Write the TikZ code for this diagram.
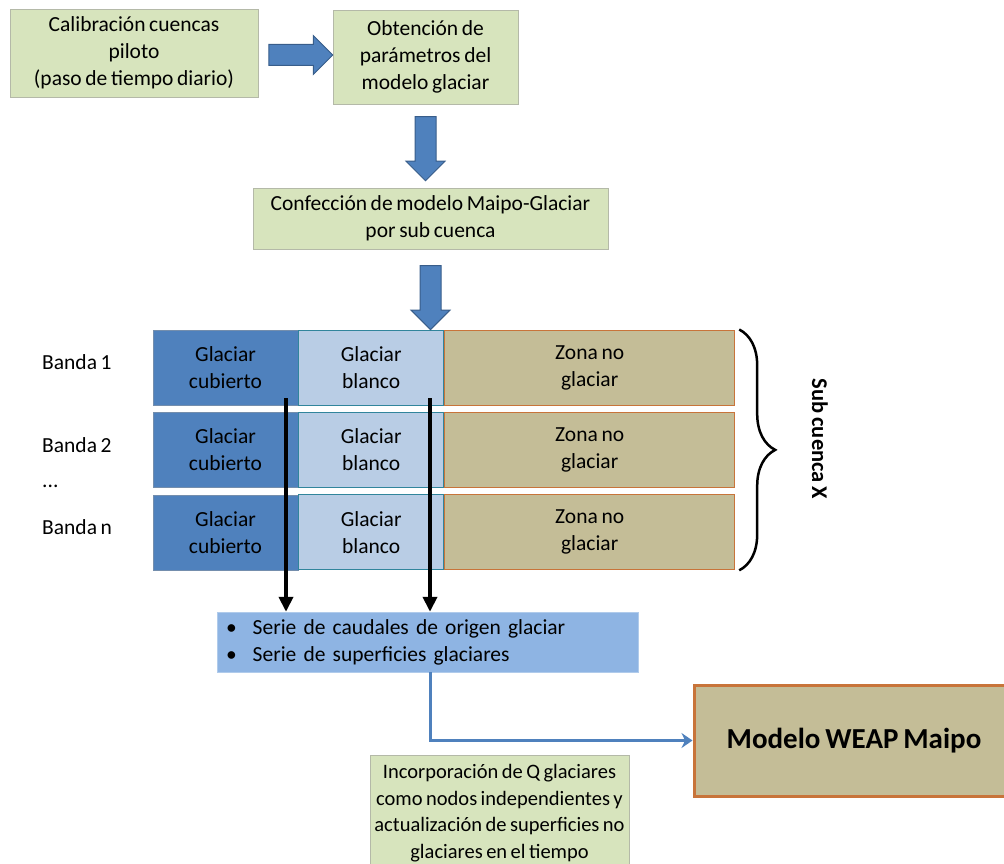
\documentclass[tikz,border=0pt]{standalone}
\usepackage{fontspec}
\setmainfont{Carlito}[WordSpace=0.75]
\usetikzlibrary{arrows.meta,positioning,shapes.arrows,decorations.pathreplacing,calc}

\definecolor{verdecaja}{HTML}{D7E4BD}
\definecolor{bordeverde}{HTML}{B4B9A8}
\definecolor{azulflecha}{HTML}{4F81BD}
\definecolor{azulborde}{HTML}{385D8A}
\definecolor{azulclaro}{HTML}{B9CDE5}
\definecolor{bordeteal}{HTML}{31859C}
\definecolor{tierra}{HTML}{C4BD97}
\definecolor{bordenaranja}{HTML}{C8743A}
\definecolor{azulserie}{HTML}{8EB4E3}

\begin{document}
\begin{tikzpicture}[x=1pt,y=1pt,font=\fontsize{21.5}{27}\selectfont,
 paso/.style={draw=bordeverde,fill=verdecaja,align=center,inner sep=0pt},
 flecha/.style={single arrow,draw=azulborde,fill=azulflecha,line width=1pt,
   minimum height=64,single arrow head extend=9pt,inner xsep=0pt,inner ysep=10pt},
 cubierto/.style={draw=azulborde!70,fill=azulflecha,align=center,
   minimum width=145,minimum height=75,inner sep=0pt},
 blanco/.style={draw=bordeteal,fill=azulclaro,line width=1pt,align=center,
   minimum width=145,minimum height=75,inner sep=0pt},
 zona/.style={draw=bordenaranja,fill=tierra,line width=1pt,align=center,
   minimum width=290,minimum height=75,inner sep=0pt},
 flujo/.style={line width=4pt,-{Triangle[length=15pt,width=14pt]}},
 conector/.style={draw=azulflecha,line width=3pt,-{Stealth[length=11pt,width=15pt]}}]
 \path[use as bounding box,clip] (0,0) rectangle (1004,-864);

 \node[paso,minimum width=248,minimum height=88] (calib) at (134,-53)
  {Calibración cuencas\\piloto\\(paso de tiempo diario)};
 \node[paso,minimum width=185,minimum height=94] (param) at (425.5,-57)
  {Obtención de\\parámetros del\\modelo glaciar};
 \node[paso,minimum width=355,minimum height=61] (conf) at (430.5,-218.5)
  {Confección de modelo Maipo-Glaciar\\por sub cuenca};

 % bandas
 \node[cubierto] (c1) at (225.5,-367.5) {Glaciar\\cubierto};
 \node[blanco,right=0pt of c1] (b1) {Glaciar\\blanco};
 \node[zona,right=0pt of b1] (z1) {Zona no\\glaciar};
 \node[cubierto,below=7pt of c1] (c2) {Glaciar\\cubierto};
 \node[blanco,right=0pt of c2] (b2) {Glaciar\\blanco};
 \node[zona,right=0pt of b2] (z2) {Zona no\\glaciar};
 \node[cubierto,below=7pt of c2] (c3) {Glaciar\\cubierto};
 \node[blanco,right=0pt of c3] (b3) {Glaciar\\blanco};
 \node[zona,right=0pt of b3] (z3) {Zona no\\glaciar};

 \node[anchor=west,inner sep=0pt] (l1) at (42,-362) {Banda 1};
 \node[anchor=west,inner sep=0pt] (l2) at (42,-445) {Banda 2};
 \node[anchor=west,inner sep=0pt] (ld) at (42,-486) {...};
 \node[anchor=west,inner sep=0pt] (ln) at (42,-527) {Banda n};

 \node[draw=azulserie!70!white,fill=azulserie,minimum width=421,minimum height=60,
  align=left,text width=403,inner xsep=9pt] (serie) at (427.5,-642)
  {\textbullet\hspace{16pt}Serie de caudales de origen glaciar\\
   \textbullet\hspace{16pt}Serie de superficies glaciares};
 \node[draw=bordenaranja,fill=tierra,line width=3pt,minimum width=320,minimum height=111,
  font=\fontsize{29}{34}\selectfont\bfseries] (weap) at (854,-740.5) {Modelo WEAP Maipo};
 \node[paso,minimum width=259,minimum height=116,anchor=north,inner ysep=2pt,
  font=\fontsize{20.5}{26.5}\selectfont] (incorp) at (499.5,-755)
  {Incorporación de Q glaciares\\como nodos independientes y\\actualización de superficies no\\glaciares en el tiempo};

 % flechas de bloque
 \node[flecha] (f1) at ($(calib.east)!0.5!(param.west)$) {};
 \node[flecha,rotate=-90] (f2) at ($(param.south)!0.5!(param.south |- conf.north)+(0,2.5)$) {};
 \node[flecha,rotate=-90] (f3) at ($(conf.south)!0.5!(conf.south |- b1.north)+(0,-3)$) {};

 \coordinate (s1) at (286,-398);
 \coordinate (s2) at (430,-398);
 \draw[flujo] (s1) -- (s1 |- serie.north);
 \draw[flujo] (s2) -- (s2 |- serie.north);
 \draw[conector] (serie.south -| s2) |- (weap.west);

 \draw[line width=2.5pt,decorate,decoration={brace,amplitude=36pt}]
  (z1.north east) ++(4,0) coordinate (ba) -- (ba |- z3.south east) coordinate (bb);
 \node[font=\fontsize{22.5}{27}\selectfont\bfseries,rotate=-90] (sub) at (820,-439) {Sub cuenca X};
\end{tikzpicture}
\end{document}
